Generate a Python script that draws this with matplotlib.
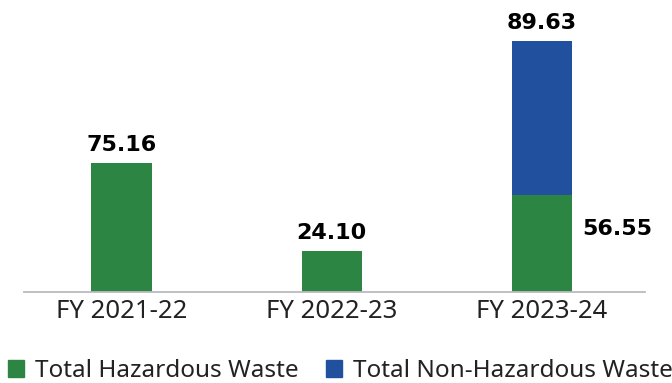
import matplotlib.pyplot as plt
from matplotlib.patches import Patch

years = ["FY 2021-22", "FY 2022-23", "FY 2023-24"]
hazardous = [75.16, 24.10, 56.55]
non_hazardous = [0, 0, 89.63]

green = "#2c8542"
blue = "#21519e"

plt.rcParams['font.family'] = ['Noto Sans', 'DejaVu Sans']

fig = plt.figure(figsize=(6.72, 3.83), dpi=100)
ax = fig.add_axes([23.7 / 672, 90.7 / 383, 621.3 / 672, 292.3 / 383])

x = list(range(len(years)))
w = 0.287
ax.bar(x, hazardous, width=w, color=green, zorder=2)
ax.bar(x, non_hazardous, width=w, bottom=hazardous, color=blue, zorder=2)

ax.set_xlim(-0.465, 2.49)
ax.set_ylim(0, 170)
ax.set_yticks([])
ax.set_xticks(x)
ax.set_xticklabels(years, fontsize=18.5, color="#222222")
ax.tick_params(axis="x", length=0, pad=5)

for s in ["top", "right", "left"]:
    ax.spines[s].set_visible(False)
ax.spines["bottom"].set_color("#b9bcbe")
ax.spines["bottom"].set_linewidth(1.3)

# value labels
lbl = dict(fontsize=16, fontweight="bold", color="black", family="DejaVu Sans")
for i in range(2):
    ax.annotate(f"{hazardous[i]:.2f}", (x[i], hazardous[i]), xytext=(0, 5.5),
                textcoords="offset points", ha="center", va="bottom", **lbl)
ax.annotate(f"{non_hazardous[2]:.2f}", (x[2], hazardous[2] + non_hazardous[2]),
            xytext=(0, 5.5), textcoords="offset points", ha="center", va="bottom", **lbl)
ax.annotate(f"{hazardous[2]:.2f}", (x[2] + w / 2, hazardous[2]), xytext=(7, -24.3),
            textcoords="offset points", ha="left", va="center", **lbl)

handles = [Patch(color=green, label="Total Hazardous Waste"),
           Patch(color=blue, label="Total Non-Hazardous Waste")]
fig.legend(handles=handles, loc="lower left", bbox_to_anchor=(0.005, -0.012), ncol=2,
           frameon=False, fontsize=17.5, handlelength=0.66, handleheight=0.68,
           handletextpad=0.44, columnspacing=1.13, borderpad=0.2, borderaxespad=0,
           labelcolor="#222222")

fig.savefig("out.png", dpi=100)
